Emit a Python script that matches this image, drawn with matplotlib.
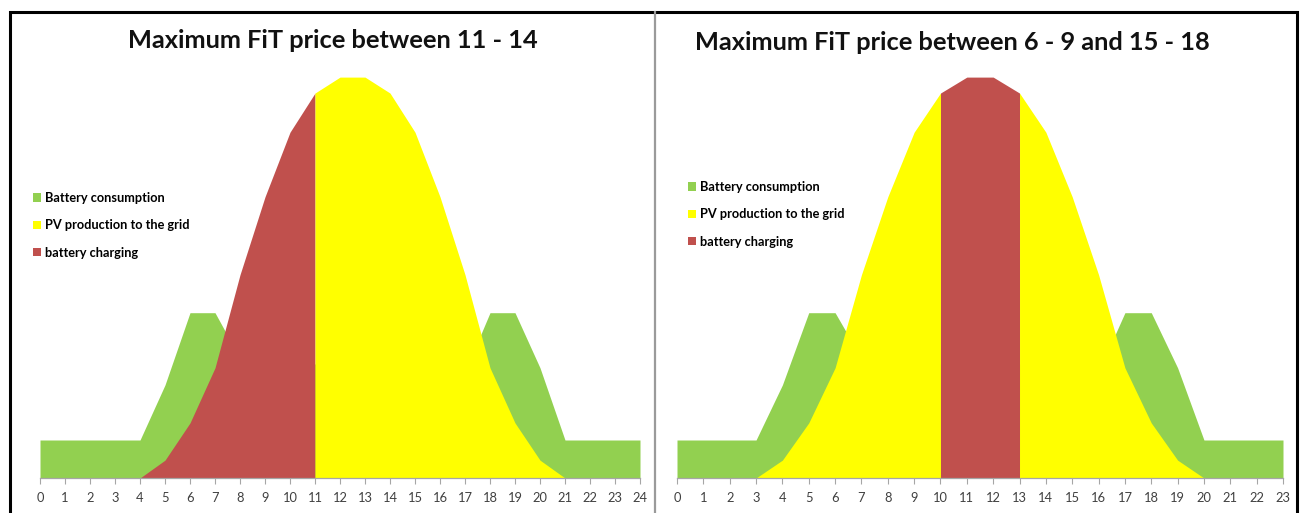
import matplotlib
matplotlib.use("Agg")
import matplotlib.pyplot as plt
from matplotlib.patches import Patch, Rectangle
from matplotlib.lines import Line2D

# ---- data -------------------------------------------------------------
# Left chart: hours 0..24
hours_left = list(range(25))
demand_left = [1, 1, 1, 1, 1, 2.45, 4.35, 4.35, 3.15, 3.0, 3.0, 3.0, 3.0,
               3.0, 3.0, 3.0, 3.0, 2.8, 4.35, 4.35, 2.9, 1, 1, 1, 1]
pv_left = [0, 0, 0, 0, 0, 0.47, 1.45, 2.9, 5.35, 7.4, 9.1, 10.13, 10.55,
           10.55, 10.13, 9.1, 7.4, 5.35, 2.9, 1.45, 0.47, 0, 0, 0, 0]
charging_left = (4, 11)          # battery charging window (hours)

# Right chart: hours 0..23
hours_right = list(range(24))
demand_right = [1, 1, 1, 1, 2.45, 4.35, 4.35, 3.15, 3.0, 3.0, 3.0, 3.0,
                3.0, 3.0, 3.0, 3.0, 2.8, 4.35, 4.35, 2.9, 1, 1, 1, 1]
pv_right = [0, 0, 0, 0, 0.47, 1.45, 2.9, 5.35, 7.4, 9.1, 10.13, 10.55,
            10.55, 10.13, 9.1, 7.4, 5.35, 2.9, 1.45, 0.47, 0, 0, 0, 0]
charging_right = (10, 13)

title_left = "Maximum FiT price between 11 - 14"
title_right = "Maximum FiT price between 6 - 9 and 15 - 18"
legend_labels = ["Battery consumption", "PV production to the grid",
                 "battery charging"]

GREEN = "#92D050"
YELLOW = "#FFFF00"
RED = "#C0504D"

FONT = ["Lato", "DejaVu Sans"]
plt.rcParams["font.family"] = FONT

W, H = 1302, 513
fig = plt.figure(figsize=(W / 100, H / 100), dpi=100)
fig.patch.set_facecolor("white")


def px_axes(x0, x1, y_bottom, y_top):
    return fig.add_axes([x0 / W, (H - y_bottom) / H, (x1 - x0) / W,
                         (y_bottom - y_top) / H])


def draw_panel(ax, hours, demand, pv, charging):
    ax.fill_between(hours, 0, demand, color=GREEN, lw=0)
    c0, c1 = charging
    last = len(hours) - 1
    # PV production split into grid export (yellow) and charging (red)
    segments = [(0, c0, YELLOW), (c0, c1, RED), (c1, last, YELLOW)]
    for a, b, col in segments:
        ax.fill_between(hours[a:b + 1], 0, pv[a:b + 1], color=col, lw=0)
    ax.set_xlim(hours[0], hours[-1])
    ax.set_ylim(0, 11)
    ax.set_xticks(hours)
    ax.set_xticklabels([str(h) for h in hours])
    for s in ("top", "left", "right"):
        ax.spines[s].set_visible(False)
    ax.spines["bottom"].set_color("#A6A6A6")
    ax.spines["bottom"].set_linewidth(0.9)
    ax.set_yticks([])
    ax.tick_params(axis="x", direction="out", length=4, width=0.8,
                   color="#A6A6A6", labelsize=9.3, labelcolor="#404040",
                   pad=6)
    ax.patch.set_alpha(0)


ax1 = px_axes(40, 640, 478, 60)
draw_panel(ax1, hours_left, demand_left, pv_left, charging_left)
ax2 = px_axes(677, 1283, 478, 60)
draw_panel(ax2, hours_right, demand_right, pv_right, charging_right)

handles = [Patch(facecolor=c, edgecolor="none") for c in (GREEN, YELLOW, RED)]
for ax, (lx, ly) in ((ax1, (33, 192)), (ax2, (688, 181))):
    fig.legend(handles, legend_labels, loc="upper left",
               bbox_to_anchor=(lx / W, 1 - ly / H), frameon=False,
               handlelength=0.6, handleheight=0.6,
               handletextpad=0.35, labelspacing=1.2, borderpad=0,
               borderaxespad=0, prop={"family": FONT, "weight": "bold",
                                      "size": 9.2})

fig.text(333 / W, 1 - 40 / H, title_left, ha="center", va="center",
         fontsize=18.3, fontweight="bold", color="#111111")
fig.text(952 / W, 1 - 42 / H, title_right, ha="center", va="center",
         fontsize=18.3, fontweight="bold", color="#111111")

# frame and panel divider
fig.add_artist(Rectangle((10 / W, -0.05), (1297 - 10) / W, (1 - 12 / H) + 0.05,
                         transform=fig.transFigure, fill=False,
                         edgecolor="black", linewidth=2.2))
fig.add_artist(Line2D([655 / W, 655 / W], [0, 1 - 12 / H],
                      transform=fig.transFigure, color="#9A9A9A", lw=1.6))

fig.savefig("out.png", dpi=100)
